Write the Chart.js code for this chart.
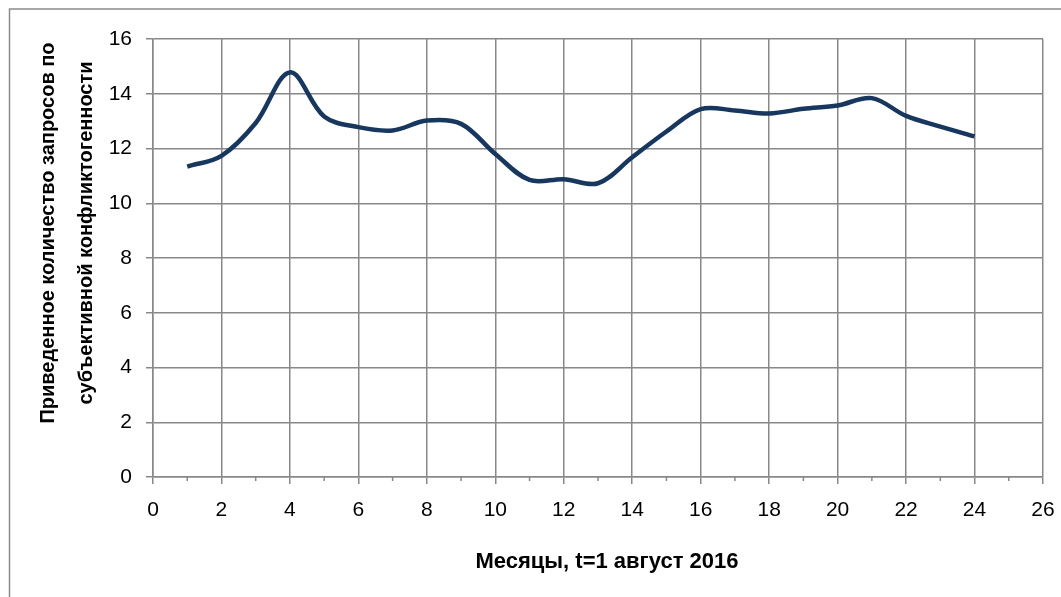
<!DOCTYPE html>
<html>
<head>
<meta charset="utf-8">
<script src="https://cdn.jsdelivr.net/npm/chart.js@4/dist/chart.umd.min.js"></script>
<style>
html,body{margin:0;padding:0;background:#fff;}
#wrap{width:1061px;height:597px;position:relative;}
</style>
</head>
<body>
<div id="wrap"><canvas id="c" width="1061" height="597"></canvas></div>
<script>
const months = [1,2,3,4,5,6,7,8,9,10,11,12,13,14,15,16,17,18,19,20,21,22,23,24];
const values = [11.34,11.73,12.93,14.78,13.17,12.78,12.66,13.02,12.9,11.8,10.85,10.88,10.73,11.68,12.62,13.44,13.39,13.28,13.45,13.57,13.84,13.19,12.8,12.44];
const xTicks = [0,2,4,6,8,10,12,14,16,18,20,22,24,26];
const yTicks = [0,2,4,6,8,10,12,14,16];
const xTitle = 'Месяцы, t=1 август 2016';
const yTitle = ['Приведенное количество запросов по', 'субъективной конфликтогенности'];

const GRID = '#888888';
const FONT = '"Liberation Sans", Arial, sans-serif';

const extras = {
  id: 'extras',
  beforeDraw(chart) {
    const ctx = chart.ctx;
    ctx.save();
    ctx.fillStyle = '#fff';
    ctx.fillRect(0, 0, chart.width, chart.height);
    ctx.strokeStyle = '#8c8c8c';
    ctx.lineWidth = 1.5;
    ctx.strokeRect(9.5, 9, 1200, 800);
    ctx.restore();
  },
  afterDatasetsDraw(chart) {
    const ctx = chart.ctx;
    const xs = chart.scales.x;
    const y0 = chart.chartArea.bottom;
    ctx.save();
    ctx.strokeStyle = GRID;
    ctx.lineWidth = 1.5;
    for (let v = 1; v < 26; v += 2) {
      const px = xs.getPixelForValue(v);
      ctx.beginPath();
      ctx.moveTo(px, y0);
      ctx.lineTo(px, y0 + 4);
      ctx.stroke();
    }
    // axis titles
    ctx.fillStyle = '#000';
    ctx.textAlign = 'center';
    ctx.textBaseline = 'middle';
    ctx.font = 'bold 22px ' + FONT;
    ctx.fillText(xTitle, 607, 562);
    ctx.font = 'bold 20px ' + FONT;
    ctx.save();
    ctx.translate(48, 233);
    ctx.rotate(-Math.PI / 2);
    ctx.fillText(yTitle[0], 0, 0);
    ctx.restore();
    ctx.save();
    ctx.translate(86, 233);
    ctx.rotate(-Math.PI / 2);
    ctx.fillText(yTitle[1], 0, 0);
    ctx.restore();
    ctx.restore();
  }
};

new Chart(document.getElementById('c'), {
  type: 'line',
  data: {
    datasets: [{
      data: months.map((m, i) => ({x: m, y: values[i]})),
      borderColor: '#17375E',
      borderWidth: 4.5,
      pointRadius: 0,
      tension: 0.35,
      fill: false
    }]
  },
  options: {
    responsive: false,
    animation: false,
    devicePixelRatio: 1,
    layout: {padding: {top: 39, right: 18, left: 0, bottom: 0}},
    plugins: {legend: {display: false}, tooltip: {enabled: false}},
    scales: {
      x: {
        type: 'linear',
        min: 0, max: 26,
        afterBuildTicks(s) { s.ticks = xTicks.map(v => ({value: v})); },
        ticks: {color: '#000', font: {family: FONT, size: 21}, padding: 14, maxRotation: 0, autoSkip: false},
        grid: {color: GRID, lineWidth: 1.5, tickLength: 7, tickColor: GRID},
        border: {color: GRID, width: 1.5},
        title: {display: false},
        afterFit(s) { s.height = 120; s.paddingRight = 0; s.paddingLeft = 0; }
      },
      y: {
        min: 0, max: 16,
        afterBuildTicks(s) { s.ticks = yTicks.map(v => ({value: v})); },
        ticks: {color: '#000', font: {family: FONT, size: 21}, padding: 14},
        grid: {color: GRID, lineWidth: 1.5, tickLength: 7, tickColor: GRID},
        border: {color: GRID, width: 1.5},
        title: {display: false},
        afterFit(s) { s.width = 153; s.paddingTop = 0; s.paddingBottom = 0; }
      }
    }
  },
  plugins: [extras]
});
</script>
</body>
</html>
